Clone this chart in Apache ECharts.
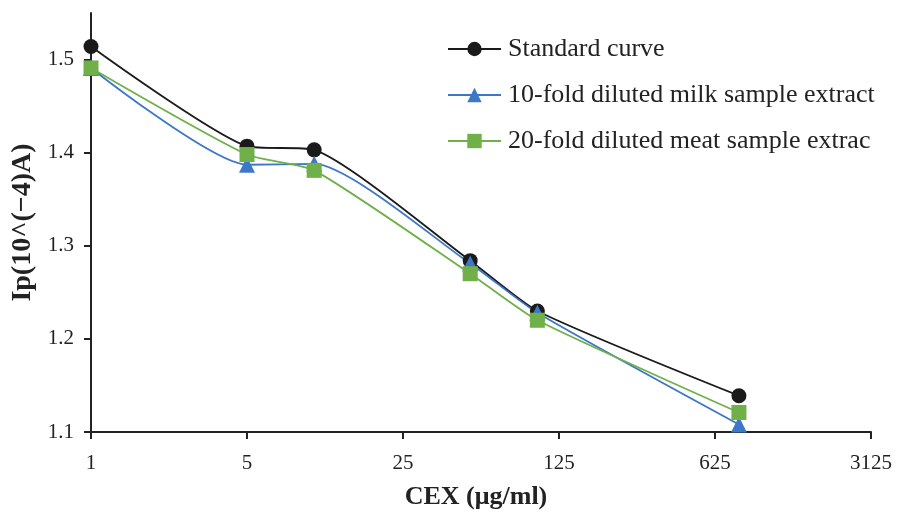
<!DOCTYPE html>
<html>
<head>
<meta charset="utf-8">
<script src="https://cdn.jsdelivr.net/npm/echarts@6/dist/echarts.min.js"></script>
<style>html,body{margin:0;padding:0;background:#fff}#c{width:898px;height:513px}</style>
</head>
<body>
<div id="c"></div>
<script>
var concentrations = [1, 5, 10, 50, 100, 800];
var standardCurve = [1.514, 1.407, 1.403, 1.284, 1.230, 1.139];
var milkExtract = [1.491, 1.387, 1.388, 1.281, 1.228, 1.108];
var meatExtract = [1.491, 1.398, 1.381, 1.270, 1.220, 1.121];
var yTicks = [1.1, 1.2, 1.3, 1.4, 1.5];
var seriesNames = ['Standard curve', '10-fold diluted milk sample extract', '20-fold diluted meat sample extrac'];

function pairs(vals) { return concentrations.map(function (x, i) { return [x, vals[i]]; }); }

var font = 'Liberation Serif';
var chart = echarts.init(document.getElementById('c'));
function mk(name, data, color, symbol, size) {
  return {
    name: name, type: 'line', data: pairs(data), smooth: 0.2,
    symbol: symbol, symbolSize: size,
    lineStyle: { color: color, width: 1.8 },
    itemStyle: { color: color },
    emphasis: { disabled: true }
  };
}
chart.setOption({
  animation: false,
  backgroundColor: '#fff',
  grid: { left: 91, right: 27, top: 13, bottom: 81, containLabel: false, outerBoundsMode: 'none' },
  legend: {
    orient: 'vertical', left: 447, top: 36, padding: 0, itemWidth: 53, itemHeight: 18, itemGap: 20,
    textStyle: { fontFamily: font, fontSize: 26, color: '#222', padding: [0, 0, 0, 2] },
    data: seriesNames
  },
  xAxis: {
    type: 'log', logBase: 5, min: 1, max: 3125,
    name: 'CEX (μg/ml)', nameLocation: 'middle', nameGap: 52,
    nameTextStyle: { fontFamily: font, fontSize: 26, fontWeight: 'bold', color: '#222', padding: [0, 10, 0, 0] },
    axisLine: { lineStyle: { color: '#222', width: 2 } },
    axisTick: { show: true, length: 7, lineStyle: { color: '#222', width: 2 } },
    axisLabel: { fontFamily: font, fontSize: 21, color: '#222', margin: 21, formatter: function (v) { return String(Math.round(v)); } },
    splitLine: { show: false }, minorTick: { show: false }
  },
  yAxis: {
    type: 'value', min: 1.1, max: 1.55,
    name: 'Ip(10^(−4)A)', nameLocation: 'middle', nameGap: 53,
    nameTextStyle: { fontFamily: font, fontSize: 28, fontWeight: 'bold', color: '#222' },
    axisLine: { show: true, lineStyle: { color: '#222', width: 2 } },
    axisTick: { show: true, length: 7, lineStyle: { color: '#222', width: 2 }, customValues: yTicks },
    axisLabel: { fontFamily: font, fontSize: 21, color: '#222', margin: 17, customValues: yTicks, formatter: function (v) { return v.toFixed(1); } },
    splitLine: { show: false }
  },
  series: [
    mk(seriesNames[0], standardCurve, '#1a1a1a', 'circle', 15),
    mk(seriesNames[1], milkExtract, '#3d77c7', 'triangle', 16),
    mk(seriesNames[2], meatExtract, '#6fb048', 'rect', 15)
  ]
});
</script>
</body>
</html>
